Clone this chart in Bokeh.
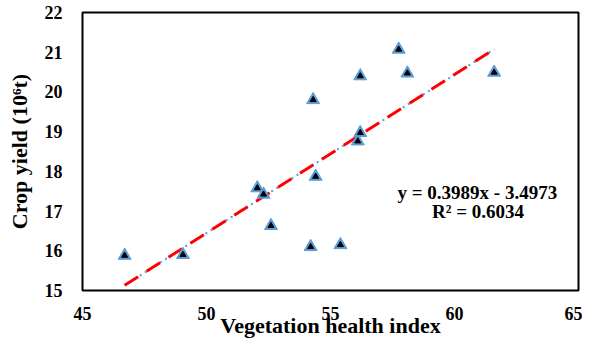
from bokeh.plotting import figure
from bokeh.embed import file_html
from bokeh.resources import INLINE
from bokeh.models import Range1d, FixedTicker
from bokeh.core.properties import value

vhi = [46.7, 49.05, 52.05, 52.3, 52.6, 54.3, 54.4, 54.2, 55.4, 56.2, 56.2, 56.1, 57.75, 58.1, 61.6]
yield_ = [15.88, 15.9, 17.58, 17.42, 16.63, 19.8, 17.87, 16.1, 16.15, 20.4, 18.97, 18.76, 21.07, 20.47, 20.49]
slope = 0.3989
intercept = -3.4973
x_ticks = [45, 50, 55, 60, 65]
y_ticks = [15, 16, 17, 18, 19, 20, 21, 22]

FONT = "Liberation Serif"

p = figure(width=582, height=341, output_backend="svg", toolbar_location=None,
           x_range=Range1d(45, 65), y_range=Range1d(15, 22),
           min_border_left=82, min_border_right=4, min_border_top=12, min_border_bottom=51)
p.grid.visible = False
p.outline_line_color = "black"
p.outline_line_width = 2
p.background_fill_color = "white"
p.border_fill_color = "white"

for ax in (p.xaxis[0], p.yaxis[0]):
    ax.axis_line_color = None
    ax.major_tick_line_color = None
    ax.minor_tick_line_color = None
    ax.major_tick_in = 0
    ax.major_tick_out = 0
    ax.minor_tick_in = 0
    ax.minor_tick_out = 0
    ax.major_label_text_font = FONT
    ax.major_label_text_font_style = "bold"
    ax.major_label_text_font_size = "18px"
    ax.major_label_text_color = "black"
    ax.axis_label_text_font = FONT
    ax.axis_label_text_font_style = "bold"
    ax.axis_label_text_font_size = "22px"
    ax.axis_label_text_color = "black"

p.xaxis.ticker = FixedTicker(ticks=x_ticks)
p.yaxis.ticker = FixedTicker(ticks=y_ticks)
p.xaxis.major_label_standoff = 16
p.yaxis.major_label_standoff = 20
p.xaxis.axis_label = "Vegetation health index"
p.yaxis.axis_label = "Crop yield (10\u2076t)"
p.xaxis.axis_label_standoff = -10
p.yaxis.axis_label_standoff = 10

# trendline
x0, x1 = min(vhi), max(vhi)
lx = [x0, x1]
ly = [slope * x0 + intercept, slope * x1 + intercept]
p.line(lx, ly, line_color="#5B9BD5", line_width=2, line_dash="2 4")
p.line(lx, ly, line_color="#FF0000", line_width=3, line_dash="16 10")

# markers
p.scatter(vhi, yield_, marker="triangle", size=13, fill_color="#5B9BD5", line_color="#5B9BD5")
p.scatter(vhi, yield_, marker="triangle", size=6, fill_color="black", line_color="black")

p.text(x=[60.92], y=[17.46], text=["y = 0.3989x - 3.4973"], text_font=value(FONT),
       text_font_style="bold", text_font_size="19px", text_align="center", text_baseline="middle",
       text_color="black")
p.text(x=[60.95], y=[17.0], text=["R\u00b2 = 0.6034"], text_font=value(FONT),
       text_font_style="bold", text_font_size="19px", text_align="center", text_baseline="middle",
       text_color="black")

open("out.html", "w").write(file_html(p, INLINE))
